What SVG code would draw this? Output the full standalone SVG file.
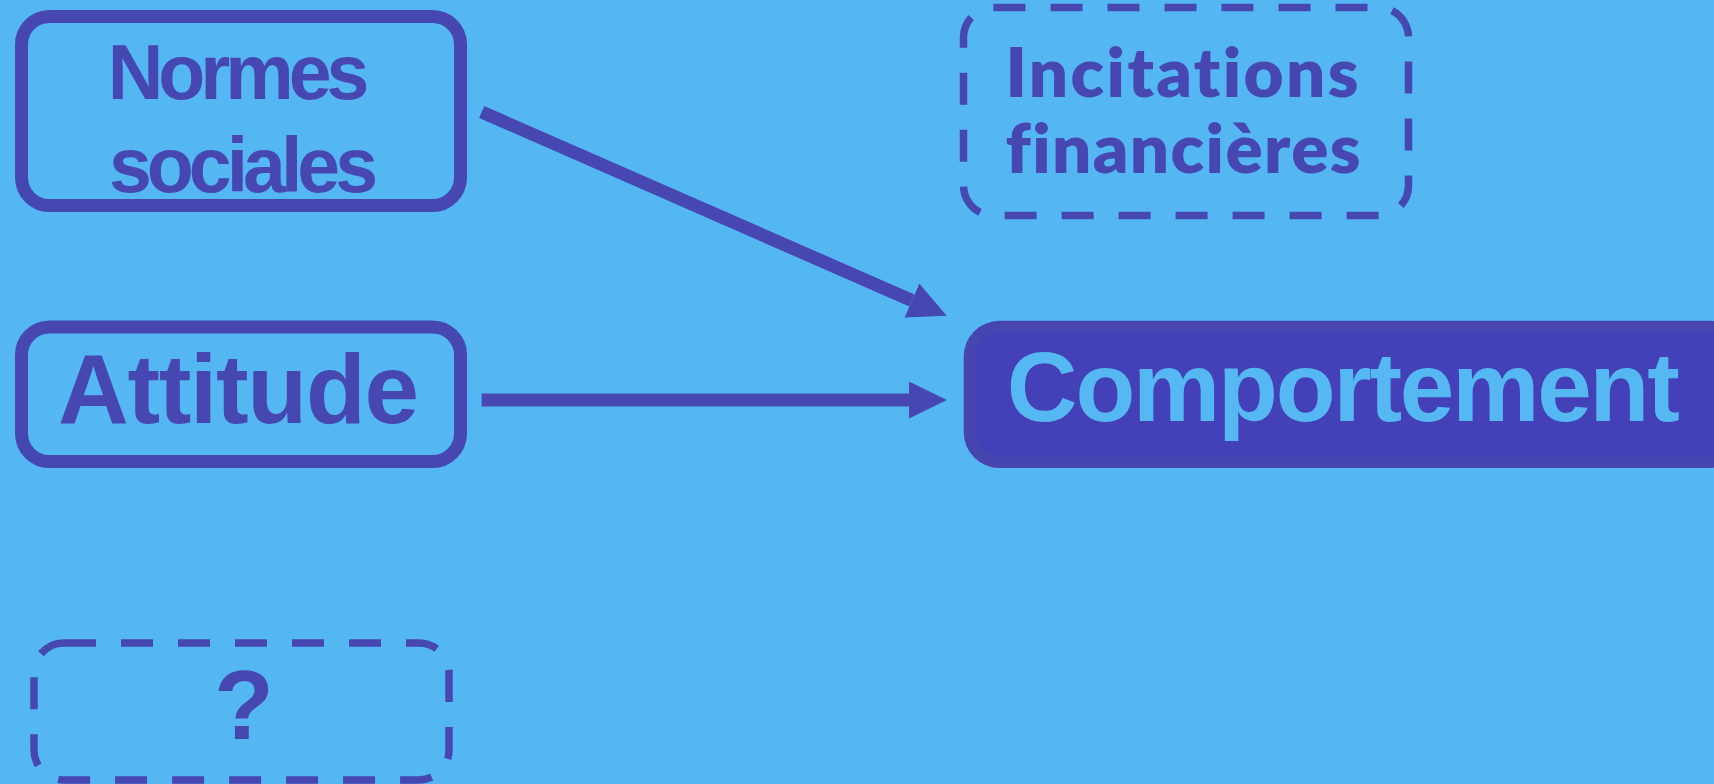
<svg xmlns="http://www.w3.org/2000/svg" width="1714" height="784" viewBox="0 0 1714 784">
<style>
.solid{fill:none;stroke:#4747B2;stroke-width:13}
.dash{fill:none;stroke:#4747B2;stroke-width:7.5;stroke-dasharray:32 25}
.lbl{font-family:"Liberation Sans",Arial,sans-serif;font-weight:700;fill:#4747B2;text-anchor:middle;font-variant-ligatures:none}
.tight{font-size:77px;letter-spacing:-5px}
.cal{font-family:Lato,"Open Sans",sans-serif;font-weight:800;fill:#4747B2;text-anchor:middle;font-variant-ligatures:none}
.conn{stroke:#4747B2;stroke-width:13;fill:none}
</style>
<defs>
<marker id="ah" markerUnits="userSpaceOnUse" markerWidth="40" markerHeight="40" refX="0" refY="18.5" orient="auto">
<path d="M0,0 L38,18.5 L0,37 z" fill="#4747B2"/>
</marker>
</defs>
<rect width="1714" height="784" fill="#54B7F3"/>
<g id="normes">
<rect class="solid" x="21.5" y="16.5" width="439" height="189" rx="28"/>
<text class="lbl tight" x="236" y="99">Normes</text>
<text class="lbl tight" x="241" y="192">sociales</text>
</g>
<g id="incitations">
<rect class="dash" x="963.5" y="7.5" width="445" height="208" rx="30"/>
<text class="cal" x="1182" y="97" font-size="69" textLength="353" lengthAdjust="spacing">Incitations</text>
<text class="cal" x="1183" y="173" font-size="69" textLength="355" lengthAdjust="spacing">financières</text>
</g>
<g id="attitude">
<rect class="solid" x="21.5" y="327" width="439" height="134.5" rx="28"/>
<text class="lbl" x="238.5" y="423" font-size="98" textLength="361" lengthAdjust="spacing">Attitude</text>
</g>
<g id="comportement">
<rect x="969.7" y="326.7" width="770" height="135.3" rx="30" fill="#4340B8" stroke="#4746B0" stroke-width="12"/>
<text class="lbl" x="1343.3" y="421" font-size="98" textLength="673" lengthAdjust="spacing" style="fill:#55B8F3">Comportement</text>
</g>
<g id="inconnu">
<rect class="dash" x="34" y="643" width="415" height="137" rx="30"/>
<text class="lbl" x="244" y="739" font-size="98">?</text>
</g>
<g id="connectors">
<line class="conn" x1="481.7" y1="112" x2="911.9" y2="300.5" marker-end="url(#ah)"/>
<line class="conn" x1="481.7" y1="400" x2="909" y2="400" marker-end="url(#ah)"/>
</g>
</svg>
